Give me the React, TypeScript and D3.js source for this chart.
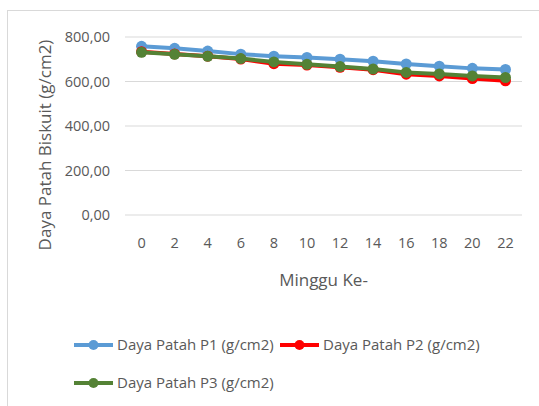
import { useEffect, useRef } from 'react';
import * as d3 from 'd3';

const weeks = ['0', '2', '4', '6', '8', '10', '12', '14', '16', '18', '20', '22'];
const p1 = [758, 749, 737, 723, 714, 708, 700, 691, 679, 669, 659, 654];
const p2 = [734, 724, 714, 701, 680, 674, 664, 653, 633, 625, 613, 603];
const p3 = [731, 722, 713, 703, 688, 677, 667, 656, 641, 634, 625, 618];
const yTicks = [0, 200, 400, 600, 800];

const series = [
    { name: 'Daya Patah P1 (g/cm2)', values: p1, color: '#5b9bd5' },
    { name: 'Daya Patah P2 (g/cm2)', values: p2, color: '#ff0000' },
    { name: 'Daya Patah P3 (g/cm2)', values: p3, color: '#548235' },
];

const font = "'Open Sans', sans-serif";

export default function App() {
    const ref = useRef<SVGSVGElement>(null);

    useEffect(() => {
        if (!ref.current) return;
        const svg = d3.select(ref.current);
        svg.selectAll('*').remove();

        const W = 539, H = 406;
        const left = 125, right = 522, top = 37, bottom = 215;

        // chart frame (right/bottom edges fall outside picture)
        svg.append('rect')
            .attr('x', 7.5).attr('y', 10.5)
            .attr('width', W + 20).attr('height', H + 20)
            .attr('fill', '#fff').attr('stroke', '#d9d9d9');

        const x = d3.scaleBand().domain(weeks).range([left, right]);
        const y = d3.scaleLinear().domain([0, 800]).range([bottom, top]);

        const g = svg.append('g');

        g.selectAll('.grid')
            .data(yTicks)
            .enter()
            .append('line')
            .attr('x1', left).attr('x2', right)
            .attr('y1', d => y(d)).attr('y2', d => y(d))
            .attr('stroke', '#d9d9d9').attr('stroke-width', 1);

        g.selectAll('.ylab')
            .data(yTicks)
            .enter()
            .append('text')
            .attr('x', 110)
            .attr('y', d => y(d))
            .attr('dy', '0.35em')
            .attr('text-anchor', 'end')
            .attr('fill', '#595959')
            .attr('font-size', '14.5px')
            .attr('font-family', font)
            .text(d => d3.format('.2f')(d).replace('.', ','));

        g.selectAll('.xlab')
            .data(weeks)
            .enter()
            .append('text')
            .attr('x', d => x(d)! + x.bandwidth() / 2)
            .attr('y', 243)
            .attr('dy', '0.35em')
            .attr('text-anchor', 'middle')
            .attr('fill', '#595959')
            .attr('font-size', '14.5px')
            .attr('font-family', font)
            .text(d => d);

        g.append('text')
            .attr('x', (left + right) / 2)
            .attr('y', 280)
            .attr('dy', '0.35em')
            .attr('text-anchor', 'middle')
            .attr('fill', '#595959')
            .attr('font-size', '17px')
            .attr('font-family', font)
            .text('Minggu Ke-');

        g.append('text')
            .attr('transform', `translate(45,145) rotate(-90)`)
            .attr('dy', '0.35em')
            .attr('text-anchor', 'middle')
            .attr('fill', '#595959')
            .attr('font-size', '17px')
            .attr('font-family', font)
            .text('Daya Patah Biskuit (g/cm2)');

        const line = d3.line<number>()
            .x((_, i) => x(weeks[i])! + x.bandwidth() / 2)
            .y(d => y(d));

        series.forEach(s => {
            g.append('path')
                .datum(s.values)
                .attr('d', line)
                .attr('fill', 'none')
                .attr('stroke', s.color)
                .attr('stroke-width', 4)
                .attr('stroke-linejoin', 'round');
            g.selectAll(null)
                .data(s.values)
                .enter()
                .append('circle')
                .attr('cx', (_, i) => x(weeks[i])! + x.bandwidth() / 2)
                .attr('cy', d => y(d))
                .attr('r', 5.5)
                .attr('fill', s.color);
        });

        // legend
        const legendPos = [
            { x: 74, y: 345 },
            { x: 280, y: 345 },
            { x: 74, y: 383 },
        ];
        series.forEach((s, i) => {
            const p = legendPos[i];
            const lg = svg.append('g').attr('transform', `translate(${p.x},${p.y})`);
            lg.append('line')
                .attr('x1', 0).attr('x2', 39)
                .attr('stroke', s.color).attr('stroke-width', 4);
            lg.append('circle').attr('cx', 19.5).attr('r', 5).attr('fill', s.color);
            lg.append('text')
                .attr('x', 43)
                .attr('dy', '0.35em')
                .attr('fill', '#595959')
                .attr('font-size', '15px')
                .attr('font-family', font)
                .text(s.name);
        });
    }, []);

    return (
        <div style={{ position: 'absolute', left: 0, top: 0 }}>
            <svg ref={ref} width={539} height={406} style={{ display: 'block' }} />
        </div>
    );
}
